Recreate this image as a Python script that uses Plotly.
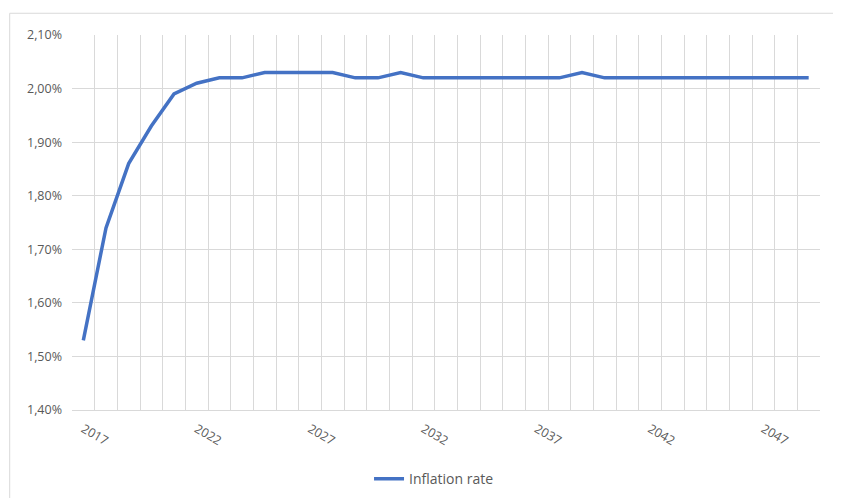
import plotly.graph_objects as go

years = list(range(2017, 2050))
inflation_rate = [1.53, 1.74, 1.86, 1.93, 1.99, 2.01, 2.02, 2.02, 2.03, 2.03,
                  2.03, 2.03, 2.02, 2.02, 2.03, 2.02, 2.02, 2.02, 2.02, 2.02,
                  2.02, 2.02, 2.03, 2.02, 2.02, 2.02, 2.02, 2.02, 2.02, 2.02,
                  2.02, 2.02, 2.02]
x_tick_labels = [2017, 2022, 2027, 2032, 2037, 2042, 2047]
series_name = "Inflation rate"

FONT = "'Open Sans', sans-serif"
GRID = "#d9d9d9"
TXT = "#595959"

fig = go.Figure()
fig.add_trace(go.Scatter(
    x=years, y=[v / 100 for v in inflation_rate],
    mode="lines", name=series_name,
    line=dict(color="#4472C4", width=3.5),
))

fig.update_layout(
    width=841, height=498,
    margin=dict(l=64, r=29, t=27, b=96, autoexpand=False),
    paper_bgcolor="white", plot_bgcolor="white",
    separators=",.",
    font=dict(family=FONT, size=12, color=TXT),
    showlegend=True,
    legend=dict(orientation="h", x=0.484, xanchor="center",
                yref="container", y=0.086, yanchor="top",
                font=dict(size=14, color=TXT)),
    xaxis=dict(
        range=[2016.5, 2049.5],
        tickmode="array", tickvals=x_tick_labels,
        ticktext=[str(v) for v in x_tick_labels],
        tickangle=30, showgrid=False, zeroline=False,
        showline=True, linecolor=GRID, linewidth=1,
        ticks="", tickfont=dict(size=12.5, color=TXT), ticklabelstandoff=6,
        minor=dict(tick0=2016.5, dtick=1, showgrid=True, gridcolor=GRID, gridwidth=1),
    ),
    yaxis=dict(
        range=[0.014, 0.021], dtick=0.001, tick0=0.014,
        tickformat=".2%", showgrid=True, gridcolor=GRID, gridwidth=1,
        zeroline=False, showline=False, ticks="",
        tickfont=dict(size=12.5, color=TXT), ticklabelstandoff=9,
    ),
    shapes=[
        dict(type="line", xref="paper", yref="paper",
             x0=-0.0833, x1=1.05, y0=1.058, y1=1.058,
             line=dict(color=GRID, width=1)),
        dict(type="line", xref="paper", yref="paper",
             x0=-0.0833, x1=-0.0833, y0=1.058, y1=-0.26,
             line=dict(color=GRID, width=1)),
    ],
)

fig.write_html("out.html")
